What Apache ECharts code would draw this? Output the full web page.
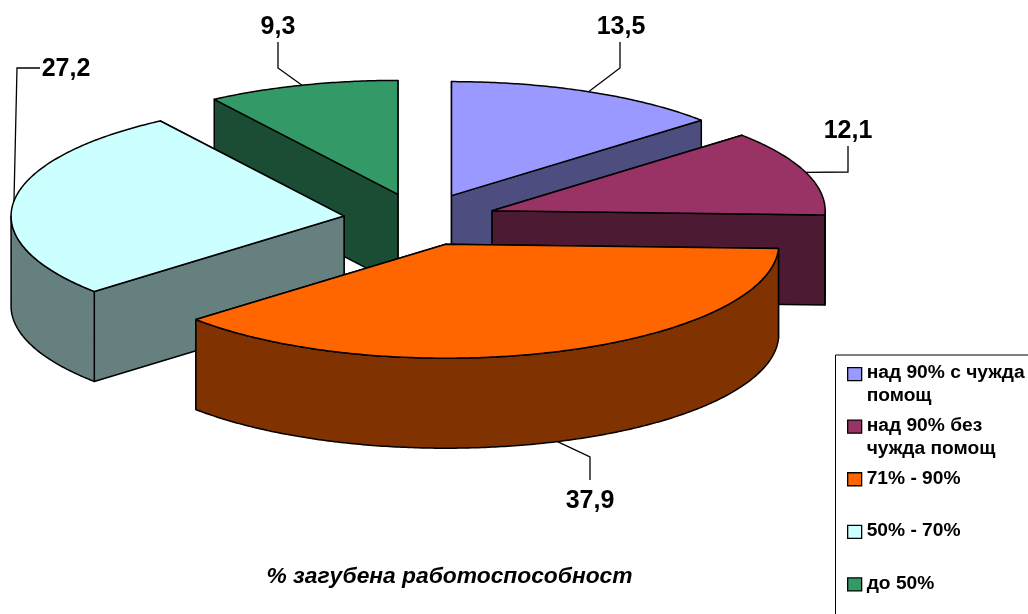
<!DOCTYPE html>
<html><head><meta charset="utf-8">
<style>html,body{margin:0;padding:0;background:#fff}#c{width:1028px;height:614px}</style>
<script src="https://cdn.jsdelivr.net/npm/echarts@6/dist/echarts.min.js"></script>
</head><body><div id="c"></div>
<script>
// Data (clockwise from 12 o'clock)
const categories = ['над 90% с чужда помощ','над 90% без чужда помощ','71% - 90%','50% - 70%','до 50%'];
const legendLabels = ['над 90% с чужда\nпомощ','над 90% без\nчужда помощ','71% - 90%\n ','50% - 70%\n ','до 50%\n '];
const values = [13.5,12.1,37.9,27.2,9.3];
const valueLabels = ['13,5','12,1','37,9','27,2','9,3'];
const topColors = ['#9999FF','#993366','#FF6600','#CCFFFF','#339966'];
const sideColors = ['#4D4D80','#4D1A33','#803300','#668080','#1A4D33'];
const titleText = '% загубена работоспособност';

// Layout
const CX=420, CY=219.5, RX=333, RY=114, DEPTH=90, EXPLODE=0.23;
const drawOrder = [0,4,1,3,2];
const leaderElbows = [[620,68],[848,172],[590,457],[17,68],[278,68]];
const leaderEnds = [[620,42],[848,146],[590,480],[40,68],[278,42]];
const labelCenters = [[621,27],[848,131],[590,501],[66,69],[278,27]];

const total = values.reduce((a,b)=>a+b,0);
function sliceAngles(i){
  let s=0; for(let k=0;k<i;k++) s+=values[k];
  return [s/total*2*Math.PI,(s+values[i])/total*2*Math.PI];
}
const ell=(c,t)=>[c[0]+RX*Math.sin(t),c[1]-RY*Math.cos(t)];
const down=p=>[p[0],p[1]+DEPTH];
function arc(c,a0,a1){
  const n=Math.max(2,Math.ceil((a1-a0)/0.01)),pts=[];
  for(let j=0;j<=n;j++) pts.push(ell(c,a0+(a1-a0)*j/n));
  return pts;
}
const LINE={stroke:'#000',lineWidth:1.5,lineJoin:'round'};
function renderSlice(params,api){
  const i=categories.indexOf(params.seriesName);
  const [a0,a1]=sliceAngles(i), mid=(a0+a1)/2;
  const c=[CX+EXPLODE*RX*Math.sin(mid),CY-EXPLODE*RY*Math.cos(mid)];
  const side=sideColors[i], top=topColors[i];
  const poly=(points,fill)=>({type:'polygon',shape:{points},style:{fill,...LINE},silent:true});
  const wall=p=>poly([c,p,down(p),down(c)],side);
  // far wall first
  const edges=[ell(c,a0),ell(c,a1)].sort((p,q)=>p[1]-q[1]);
  const children=edges.map(wall);
  // front-facing part of the rim
  const f0=Math.max(a0,Math.PI/2), f1=Math.min(a1,Math.PI*1.5);
  if(f1>f0){
    const rim=arc(c,f0,f1);
    children.push(poly(rim.concat(rim.map(down).reverse()),side));
  }
  children.push(poly([c].concat(arc(c,a0,a1)),top));
  // leader and label
  let anchor=ell(c,mid);
  if(Math.cos(mid)<0) anchor=down(anchor);
  children.push({type:'polyline',shape:{points:[anchor,leaderElbows[i],leaderEnds[i]]},
    style:{fill:null,stroke:'#000',lineWidth:1.3},silent:true});
  children.push({type:'text',x:labelCenters[i][0],y:labelCenters[i][1],silent:true,
    style:{text:valueLabels[i],align:'center',verticalAlign:'middle',fill:'#000',
      font:'bold 25px "Liberation Sans", Arial, sans-serif'}});
  return {type:'group',children};
}
const chart=echarts.init(document.getElementById('c'),null,{renderer:'canvas'});
chart.setOption({
  animation:false,
  backgroundColor:'#fff',
  title:{text:titleText,left:444.5,top:560,textAlign:'center',
    textStyle:{fontFamily:'"Liberation Sans", Arial, sans-serif',fontWeight:'bold',fontStyle:'italic',fontSize:22.8,color:'#000'}},
  legend:{
    orient:'vertical',left:842,top:356,height:300,itemGap:5.25,itemWidth:14,itemHeight:46,selectedMode:false,
    data:categories.map(name=>({name,icon:'path://M0 6h14v13h-14zM0 0M0 46'})),
    itemStyle:{borderColor:'#000',borderWidth:1.3},
    formatter:n=>legendLabels[categories.indexOf(n)],
    textStyle:{fontFamily:'"Liberation Sans", Arial, sans-serif',fontWeight:'bold',fontSize:19.2,color:'#000',lineHeight:23}
  },
  graphic:[{type:'rect',z:-1,silent:true,shape:{x:835.5,y:355,width:400,height:400},style:{fill:'#fff',stroke:'#000',lineWidth:1}}],
  series:drawOrder.map((i,o)=>({
    type:'custom',name:categories[i],coordinateSystem:'none',z:2+o,silent:true,
    itemStyle:{color:topColors[i]},
    renderItem:renderSlice,data:[values[i]]
  }))
});
</script></body></html>
